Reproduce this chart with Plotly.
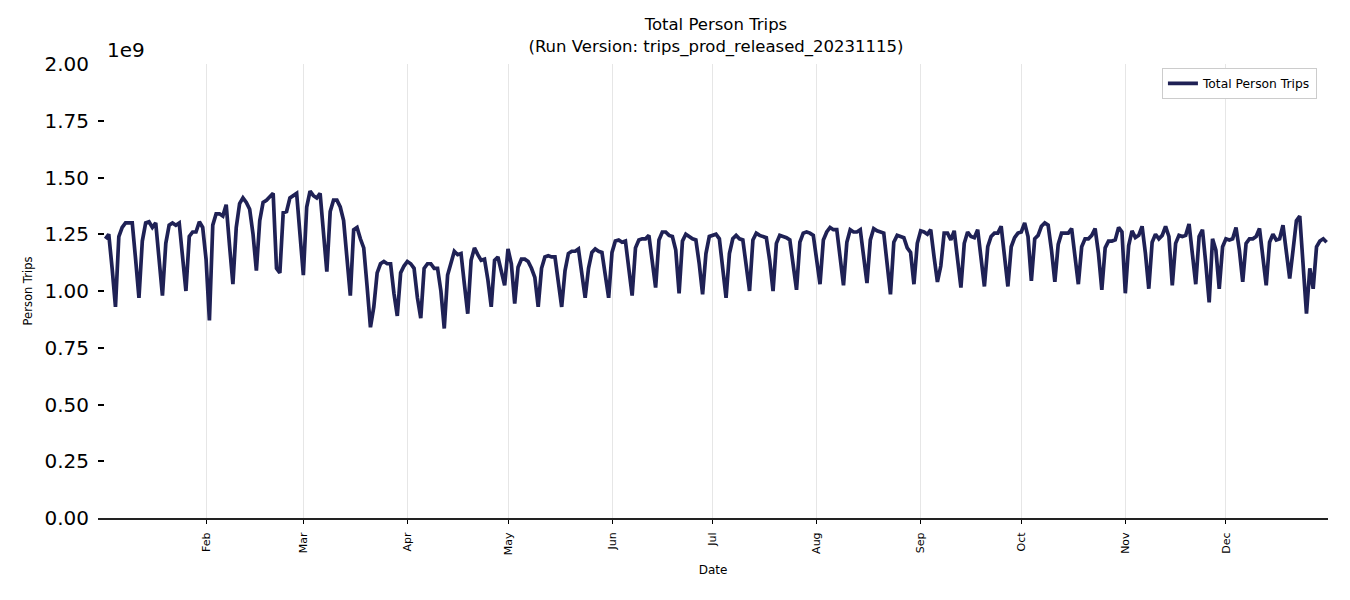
import pandas as pd
import plotly.graph_objects as go

# Daily total person trips, in billions (axis shows x1e9), Jan 2 - Dec 31, 2020
jan = [1.23, 1.25, 1.10, 0.93,
       1.24, 1.28, 1.30, 1.30, 1.30, 1.14, 0.97,
       1.22, 1.30, 1.305, 1.28, 1.30, 1.14, 0.98,
       1.21, 1.29, 1.30, 1.29, 1.30, 1.15, 1.00,
       1.24, 1.26, 1.26, 1.305, 1.28]
feb = [1.14, 0.87,
       1.29, 1.34, 1.34, 1.33, 1.38, 1.20, 1.03,
       1.28, 1.385, 1.41, 1.39, 1.36, 1.25, 1.09,
       1.31, 1.39, 1.40, 1.415, 1.43, 1.10, 1.08,
       1.345, 1.35, 1.41, 1.42, 1.43, 1.25]
mar = [1.07, 1.37, 1.44, 1.42, 1.41, 1.43, 1.24, 1.085,
       1.35, 1.40, 1.40, 1.37, 1.31, 1.15, 0.98,
       1.27, 1.28, 1.23, 1.19, 1.02, 0.84, 0.93,
       1.08, 1.12, 1.13, 1.12, 1.12, 0.99, 0.89,
       1.08, 1.11]
apr = [1.13, 1.12, 1.10, 0.97, 0.88,
       1.10, 1.12, 1.12, 1.10, 1.10, 1.00, 0.835,
       1.07, 1.13, 1.175, 1.16, 1.165, 1.03, 0.90,
       1.135, 1.19, 1.16, 1.135, 1.14, 1.05, 0.93,
       1.135, 1.15, 1.09, 1.025]
may = [1.185, 1.12, 0.945,
       1.105, 1.14, 1.14, 1.13, 1.10, 1.06, 0.93,
       1.10, 1.15, 1.155, 1.15, 1.15, 1.05, 0.93,
       1.09, 1.165, 1.175, 1.175, 1.185, 1.06, 0.97,
       1.10, 1.17, 1.185, 1.175, 1.17, 1.075, 0.97]
jun = [1.17, 1.22, 1.225, 1.215, 1.22, 1.10, 0.98,
       1.19, 1.225, 1.23, 1.23, 1.245, 1.135, 1.015,
       1.225, 1.26, 1.26, 1.245, 1.24, 1.18, 0.99,
       1.22, 1.25, 1.24, 1.23, 1.225, 1.12, 0.985,
       1.165, 1.24]
jul = [1.245, 1.25, 1.23, 1.09, 0.97,
       1.165, 1.23, 1.245, 1.23, 1.225, 1.12, 1.00,
       1.225, 1.255, 1.245, 1.24, 1.235, 1.135, 1.00,
       1.21, 1.245, 1.24, 1.235, 1.225, 1.12, 1.005,
       1.215, 1.255, 1.26, 1.255, 1.245]
aug = [1.135, 1.03,
       1.225, 1.26, 1.28, 1.27, 1.27, 1.15, 1.025,
       1.215, 1.27, 1.26, 1.26, 1.27, 1.15, 1.035,
       1.225, 1.275, 1.265, 1.26, 1.255, 1.12, 0.985,
       1.215, 1.245, 1.24, 1.235, 1.19, 1.17, 1.03,
       1.21]
sep = [1.265, 1.26, 1.25, 1.27, 1.15, 1.04,
       1.11, 1.255, 1.255, 1.225, 1.265, 1.15, 1.015,
       1.21, 1.26, 1.24, 1.235, 1.27, 1.15, 1.02,
       1.195, 1.24, 1.255, 1.255, 1.285, 1.165, 1.02,
       1.195, 1.235, 1.255]
oct_ = [1.26, 1.30, 1.24, 1.045,
        1.23, 1.245, 1.285, 1.30, 1.29, 1.18, 1.04,
        1.205, 1.255, 1.255, 1.255, 1.275, 1.165, 1.03,
        1.195, 1.23, 1.23, 1.245, 1.275, 1.165, 1.005,
        1.19, 1.22, 1.22, 1.225, 1.28, 1.26]
nov = [0.99,
       1.20, 1.265, 1.235, 1.245, 1.285, 1.165, 1.01,
       1.215, 1.25, 1.23, 1.245, 1.285, 1.24, 1.025,
       1.21, 1.245, 1.24, 1.245, 1.295, 1.165, 1.03,
       1.24, 1.27, 1.12, 0.95, 1.23, 1.18, 1.01,
       1.195]
dec = [1.23, 1.225, 1.23, 1.28, 1.18, 1.04,
       1.21, 1.23, 1.23, 1.24, 1.275, 1.165, 1.025,
       1.215, 1.25, 1.225, 1.23, 1.29, 1.18, 1.055,
       1.18, 1.31, 1.33, 1.10, 0.90, 1.10, 1.01,
       1.195, 1.22, 1.23, 1.215]

months = [jan, feb, mar, apr, may, jun, jul, aug, sep, oct_, nov, dec]
values_billion = [v for m in months for v in m]
dates = pd.date_range("2020-01-02", "2020-12-31", freq="D")
assert len(dates) == len(values_billion)
trips = [v * 1e9 for v in values_billion]

x_tick_dates = ["2020-02-01", "2020-03-01", "2020-04-01", "2020-05-01", "2020-06-01",
                "2020-07-01", "2020-08-01", "2020-09-01", "2020-10-01", "2020-11-01",
                "2020-12-01"]
x_tick_labels = ["Feb", "Mar", "Apr", "May", "Jun", "Jul", "Aug", "Sep", "Oct", "Nov", "Dec"]
y_tick_values = [0, 0.25e9, 0.5e9, 0.75e9, 1.0e9, 1.25e9, 1.5e9, 1.75e9, 2.0e9]
y_tick_labels = ["0.00", "0.25", "0.50", "0.75", "1.00", "1.25", "1.50", "1.75", "2.00"]

FONT = "DejaVu Sans"
LINE_COLOR = "#1f2155"

fig = go.Figure()
fig.add_trace(go.Scatter(
    x=dates, y=trips, mode="lines", name="Total Person Trips",
    line=dict(color=LINE_COLOR, width=3.7),
))

fig.update_layout(
    width=1342, height=592,
    margin=dict(l=90, r=22, t=56, b=82),
    paper_bgcolor="white", plot_bgcolor="white",
    font=dict(family=FONT, color="black"),
    title=dict(
        text="Total Person Trips<br>(Run Version: trips_prod_released_20231115)",
        x=0.5024, xref="paper", xanchor="center",
        y=0.962, yref="container", yanchor="top",
        font=dict(family=FONT, size=16.5, color="black"),
    ),
    showlegend=True,
    legend=dict(
        x=0.991, y=0.9916, xanchor="right", yanchor="top",
        bgcolor="white", bordercolor="#cccccc", borderwidth=1,
        font=dict(family=FONT, size=12.3, color="black"),
        itemwidth=30,
    ),
    annotations=[dict(
        text="1e9", xref="paper", yref="paper", x=0.006, y=1.031,
        xanchor="left", yanchor="middle", showarrow=False,
        font=dict(family=FONT, size=20, color="black"),
    )],
)

fig.update_xaxes(
    type="date",
    range=["2019-12-30 19:00", "2020-12-31 10:00"],
    tickvals=x_tick_dates, ticktext=x_tick_labels, tickangle=-90,
    tickfont=dict(family=FONT, size=11, color="black"),
    ticks="outside", ticklen=4, tickcolor="black", tickwidth=1,
    ticklabelstandoff=4,
    showline=True, linecolor="#222222", linewidth=2,
    showgrid=True, gridcolor="#e6e6e6", gridwidth=1,
    zeroline=False,
    title=dict(text="Date", font=dict(family=FONT, size=12, color="black"), standoff=11),
)

fig.update_yaxes(
    range=[0, 2e9],
    tickvals=y_tick_values, ticktext=y_tick_labels,
    tickfont=dict(family=FONT, size=20, color="black"),
    ticks="inside", ticklen=6, tickcolor="black", tickwidth=1.5,
    ticklabelstandoff=8,
    showline=False, showgrid=False, zeroline=False,
    title=dict(text="Person Trips", font=dict(family=FONT, size=11.5, color="black"), standoff=9),
)

fig.write_html("out.html")
